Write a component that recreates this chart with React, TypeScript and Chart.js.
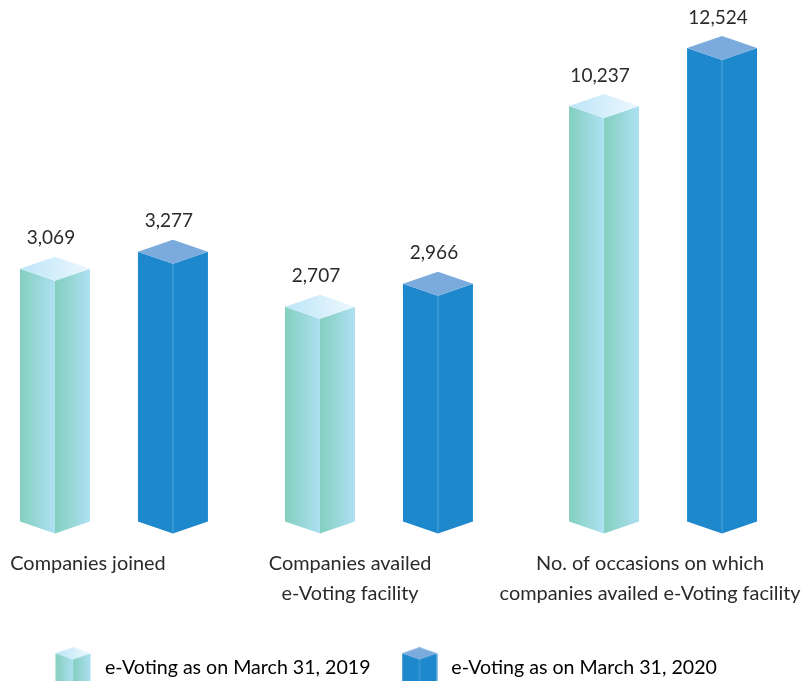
import React, { useEffect, useRef } from "react";
import { Chart, registerables, LinearScale } from "chart.js";

const series2019Name = "e-Voting as on March 31, 2019";
const series2020Name = "e-Voting as on March 31, 2020";
const values2019 = [3069, 2707, 10237];
const values2020 = [3277, 2966, 12524];
// Group centres and category-label centres along the x axis (in group-spacing units)
const groupPositions = [0, 1, 2.072];
const seriesOffset = 0.2226;
const labelPositions = [-0.098, 0.891, 2.023];
const categoryLabels: (string | string[])[] = [
  "Companies joined",
  ["Companies availed", "e-Voting facility"],
  ["No. of occasions on which", "companies availed e-Voting facility"],
];
// The source chart's value axis is not linear: value -> axis position
const axisValues = [0, 2707, 2966, 3069, 3277, 10237, 12524, 12990];
const axisPositions = [0, 215, 238, 253, 270, 416, 474, 486];

const FONT = "Lato";
const TEXT = "#2b2a2a";

type Style3D = { faceA: string; faceB: string; topA: string; topB: string; seam?: string };
const tealStyle: Style3D = { faceA: "#83CFBF", faceB: "#AEE0F2", topA: "#BCE5F8", topB: "#EDF8FE" };
const blueStyle: Style3D = { faceA: "#1E88CC", faceB: "#1E88CC", topA: "#7BABDD", topB: "#7BABDD", seam: "#4FA3DC" };

class AnchoredScale extends LinearScale {
  static id = "anchored";
  getPixelForValue(value: number) {
    const top = axisPositions[axisPositions.length - 1];
    let i = 0;
    while (i < axisValues.length - 2 && value > axisValues[i + 1]) i++;
    const t = (value - axisValues[i]) / (axisValues[i + 1] - axisValues[i]);
    const pos = axisPositions[i] + t * (axisPositions[i + 1] - axisPositions[i]);
    return this.getPixelForDecimal(pos / top);
  }
}

Chart.register(...registerables, AnchoredScale as any);

function poly(ctx: CanvasRenderingContext2D, pts: number[][], fill: any) {
  ctx.beginPath();
  pts.forEach((p, i) => (i ? ctx.lineTo(p[0], p[1]) : ctx.moveTo(p[0], p[1])));
  ctx.closePath();
  ctx.fillStyle = fill;
  ctx.fill();
}

function grad(ctx: CanvasRenderingContext2D, x0: number, x1: number, a: string, b: string) {
  const g = ctx.createLinearGradient(x0, 0, x1, 0);
  g.addColorStop(0, a);
  g.addColorStop(1, b);
  return g;
}

function paint3D(ctx: CanvasRenderingContext2D, x: number, y: number, base: number, w: number, d: number, s: Style3D) {
  const l = x - w / 2;
  const r = x + w / 2;
  poly(ctx, [[l, y], [x, y + d], [x, base + d], [l, base]], grad(ctx, l, x, s.faceA, s.faceB));
  poly(ctx, [[x, y + d], [r, y], [r, base], [x, base + d]], grad(ctx, x, r, s.faceA, s.faceB));
  poly(ctx, [[l, y], [x, y - d], [r, y], [x, y + d]], grad(ctx, l, r, s.topA, s.topB));
  if (s.seam) {
    ctx.strokeStyle = s.seam;
    ctx.lineWidth = 1;
    ctx.beginPath();
    ctx.moveTo(x, y + d);
    ctx.lineTo(x, base + d);
    ctx.stroke();
  }
}

function legendIcon(s: Style3D) {
  const c = document.createElement("canvas");
  c.width = 36;
  c.height = 40;
  paint3D(c.getContext("2d")!, 18, 6, 34, 35, 6, s);
  return c;
}

const bars3D = {
  id: "bars3D",
  afterDatasetsDraw(chart: any) {
    const ctx: CanvasRenderingContext2D = chart.ctx;
    ctx.save();
    chart.data.datasets.forEach((ds: any, di: number) => {
      const meta = chart.getDatasetMeta(di);
      meta.data.forEach((el: any, i: number) => {
        paint3D(ctx, el.x, el.y, el.base, el.width, 12, ds.style3D);
        ctx.fillStyle = TEXT;
        ctx.font = `19px ${FONT}`;
        ctx.textAlign = "center";
        ctx.textBaseline = "middle";
        ctx.fillText(ds.data[i].y.toLocaleString("en-US"), el.x - 4, el.y - 30.5);
      });
    });
    ctx.restore();
  },
};

export default function App() {
  const ref = useRef<HTMLCanvasElement>(null);
  useEffect(() => {
    const chart = new Chart(ref.current!, {
      type: "bar",
      plugins: [bars3D],
      data: {
        datasets: [
          {
            label: series2019Name,
            data: values2019.map((v, i) => ({ x: groupPositions[i] - seriesOffset, y: v })),
            backgroundColor: "transparent",
            style3D: tealStyle,
          },
          {
            label: series2020Name,
            data: values2020.map((v, i) => ({ x: groupPositions[i] + seriesOffset, y: v })),
            backgroundColor: "transparent",
            style3D: blueStyle,
          },
        ] as any,
      },
      options: {
        responsive: false,
        animation: false,
        grouped: false,
        barThickness: 70,
        layout: { padding: { top: 36, left: 0, right: 35, bottom: -6 } },
        plugins: {
          tooltip: { enabled: false },
          legend: {
            position: "bottom",
            labels: {
              usePointStyle: true,
              pointStyleWidth: 44,
              padding: 27,
              color: TEXT,
              font: { family: FONT, size: 19.6 },
              generateLabels: () => [
                { text: series2019Name, pointStyle: legendIcon(tealStyle), datasetIndex: 0, lineWidth: 0 },
                { text: series2020Name, pointStyle: legendIcon(blueStyle), datasetIndex: 1, lineWidth: 0 },
              ] as any,
            },
          },
        },
        scales: {
          x: {
            type: "linear",
            offset: false,
            min: -0.43,
            max: 2.468,
            grid: { display: false },
            border: { display: false },
            afterBuildTicks: (axis: any) => {
              axis.ticks = labelPositions.map((value) => ({ value }));
            },
            afterFit: (scale: any) => {
              scale.paddingLeft = 0;
              scale.paddingRight = 0;
              scale.height = 109;
            },
            ticks: {
              autoSkip: false,
              maxRotation: 0,
              minRotation: 0,
              padding: 19,
              color: TEXT,
              font: { family: FONT, size: 19.9, lineHeight: 1.51 },
              callback: (_v: any, i: number) => categoryLabels[i],
            },
          },
          y: {
            type: "anchored",
            display: false,
            min: 0,
            max: 12990,
          },
        },
      } as any,
    });
    return () => chart.destroy();
  }, []);
  return (
    <div style={{ position: "absolute", left: 0, top: 0, width: 803, height: 681, overflow: "hidden", background: "#fff" }}>
      <canvas ref={ref} width={803} height={681} style={{ display: "block" }} />
    </div>
  );
}
